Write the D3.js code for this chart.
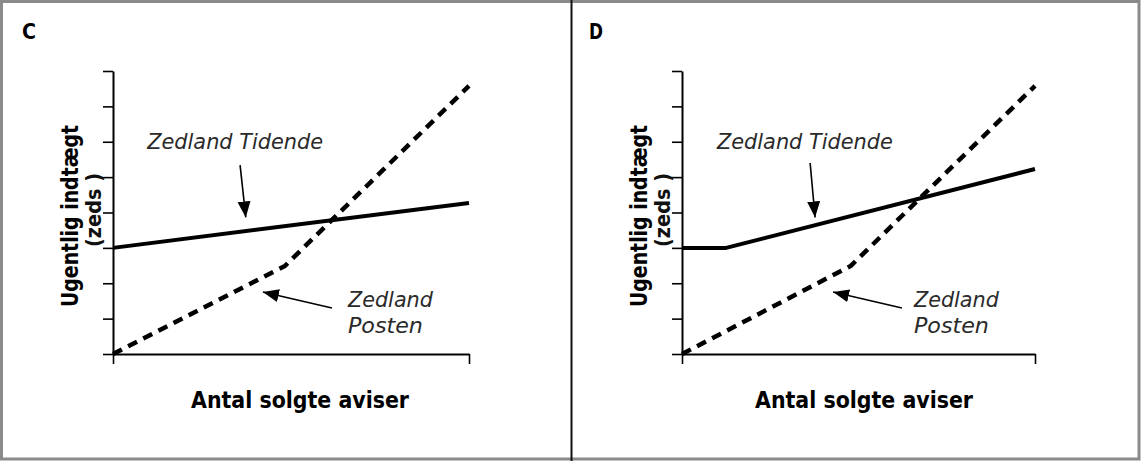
<!DOCTYPE html>
<html>
<head>
<meta charset="utf-8">
<script src="https://cdn.jsdelivr.net/npm/d3@7"></script>
<style>
  html, body { margin: 0; padding: 0; background: #fff; }
  svg { display: block; }
</style>
</head>
<body>
<svg id="chart" width="1141" height="461"></svg>
<script>
// ---- data ----
const panelNames = ["C", "D"];
const yTickValues = [0, 1, 2, 3, 4, 5, 6, 7, 8];
const xTickValues = [0, 10];
const xLabel = "Antal solgte aviser";
const yLabelLine1 = "Ugentlig indtægt";
const yLabelLine2 = "(zeds )";
const seriesNames = ["Zedland Tidende", "Zedland Posten"];

// Panel C
const tidendeC = [[0, 3.0], [10, 4.27]];
const postenC  = [[0, 0], [4.83, 2.49], [10, 7.58]];
// Panel D
const tidendeD = [[0, 3.0], [1.25, 3.0], [10, 5.23]];
const postenD  = [[0, 0], [4.78, 2.49], [10, 7.58]];

// annotation arrows (data units: [from, to])
const tidArrowC = [[3.57, 5.34], [3.73, 3.86]];
const posArrowC = [[6.15, 1.30], [4.21, 1.75]];
const tidArrowD = [[3.63, 5.40], [3.77, 3.86]];
const posArrowD = [[6.23, 1.30], [4.28, 1.75]];

// label anchors (data units)
const tidLabelC = [0.96, 5.80];
const posLabelC = [6.60, 1.33];
const tidLabelD = [0.99, 5.80];
const posLabelD = [6.57, 1.33];

const panels = [
  { name: panelNames[0], tidende: tidendeC, posten: postenC, tidArrow: tidArrowC, posArrow: posArrowC,
    tidLabel: tidLabelC, posLabel: posLabelC, xRange: [113, 469], letterX: 22,
    yLab1: [78, 216], yLab2: [101, 210], xLab: [300, 408] },
  { name: panelNames[1], tidende: tidendeD, posten: postenD, tidArrow: tidArrowD, posArrow: posArrowD,
    tidLabel: tidLabelD, posLabel: posLabelD, xRange: [682, 1035], letterX: 589,
    yLab1: [647, 216], yLab2: [670, 210], xLab: [864, 408] }
];

const svg = d3.select("#chart");

// arrowhead marker
svg.append("defs").append("marker")
  .attr("id", "ah")
  .attr("markerUnits", "userSpaceOnUse")
  .attr("viewBox", "0 -7 16 14")
  .attr("refX", 16).attr("refY", 0)
  .attr("markerWidth", 16).attr("markerHeight", 14)
  .attr("orient", "auto")
  .append("path").attr("d", "M0,-6.5L16,0L0,6.5Z").attr("fill", "#000");

// frame
svg.append("rect").attr("x", 1.5).attr("y", 1.5).attr("width", 1137.5).attr("height", 457.5)
  .attr("fill", "none").attr("stroke", "#8a8a8a").attr("stroke-width", 3);
svg.append("line").attr("x1", 571.5).attr("x2", 571.5).attr("y1", 0).attr("y2", 461)
  .attr("stroke", "#111").attr("stroke-width", 2);

panels.forEach(p => {
  const x = d3.scaleLinear().domain([0, 10]).range(p.xRange);
  const y = d3.scaleLinear().domain([0, 8]).range([354, 71]);
  const g = svg.append("g");

  // panel letter
  g.append("text").attr("x", p.letterX).attr("y", 39)
    .attr("font-family", "'DejaVu Sans', sans-serif")
    .attr("font-weight", "bold").attr("font-size", 22).attr("fill", "#000")
    .attr("textLength", 14).attr("lengthAdjust", "spacingAndGlyphs")
    .text(p.name);

  // axes
  const yAxis = d3.axisLeft(y).tickValues(yTickValues).tickFormat("").tickSize(10).tickSizeOuter(0);
  const xAxis = d3.axisBottom(x).tickValues(xTickValues).tickFormat("").tickSize(10).tickSizeOuter(0);
  const ya = g.append("g").attr("transform", `translate(${p.xRange[0]},0)`).call(yAxis);
  const xa = g.append("g").attr("transform", `translate(0,354)`).call(xAxis);
  [ya, xa].forEach(a => {
    a.selectAll("path.domain").attr("stroke", "#000").attr("stroke-width", 2);
    a.selectAll(".tick line").attr("stroke", "#000").attr("stroke-width", 1.6);
  });

  const line = d3.line().x(d => x(d[0])).y(d => y(d[1]));

  // Tidende (solid)
  g.append("path").datum(p.tidende).attr("d", line)
    .attr("fill", "none").attr("stroke", "#000").attr("stroke-width", 4)
    .attr("stroke-linejoin", "round");
  // Posten (dashed)
  g.append("path").datum(p.posten).attr("d", line)
    .attr("fill", "none").attr("stroke", "#000").attr("stroke-width", 4.5)
    .attr("stroke-dasharray", "10,7").attr("stroke-linejoin", "miter");

  // arrows
  [p.tidArrow, p.posArrow].forEach(a => {
    g.append("line")
      .attr("x1", x(a[0][0])).attr("y1", y(a[0][1]))
      .attr("x2", x(a[1][0])).attr("y2", y(a[1][1]))
      .attr("stroke", "#000").attr("stroke-width", 1.6)
      .attr("marker-end", "url(#ah)");
  });

  // series labels
  const lblFont = "'DejaVu Sans', Verdana, sans-serif";
  const lblSize = 21;
  g.append("text").attr("x", x(p.tidLabel[0])).attr("y", y(p.tidLabel[1]))
    .attr("font-family", lblFont).attr("font-style", "italic").attr("font-size", lblSize)
    .attr("fill", "#2a2a2a").attr("textLength", 176).attr("lengthAdjust", "spacingAndGlyphs")
    .text(seriesNames[0]);
  const posParts = seriesNames[1].split(" ");
  g.append("text").attr("x", x(p.posLabel[0])).attr("y", y(p.posLabel[1]))
    .attr("font-family", lblFont).attr("font-style", "italic").attr("font-size", lblSize)
    .attr("fill", "#2a2a2a").attr("textLength", 85).attr("lengthAdjust", "spacingAndGlyphs")
    .text(posParts[0]);
  g.append("text").attr("x", x(p.posLabel[0])).attr("y", y(p.posLabel[1]) + 26)
    .attr("font-family", lblFont).attr("font-style", "italic").attr("font-size", lblSize)
    .attr("fill", "#2a2a2a").attr("textLength", 75).attr("lengthAdjust", "spacingAndGlyphs")
    .text(posParts[1]);

  // axis titles
  const axFont = "'DejaVu Sans', Verdana, sans-serif";
  g.append("text").attr("transform", `translate(${p.yLab1[0]},${p.yLab1[1]}) rotate(-90)`)
    .attr("text-anchor", "middle").attr("font-family", axFont).attr("font-weight", "bold")
    .attr("font-size", 23).attr("fill", "#000")
    .attr("textLength", 182).attr("lengthAdjust", "spacingAndGlyphs")
    .text(yLabelLine1);
  g.append("text").attr("transform", `translate(${p.yLab2[0]},${p.yLab2[1]}) rotate(-90)`)
    .attr("text-anchor", "middle").attr("font-family", axFont).attr("font-weight", "bold")
    .attr("font-size", 21).attr("fill", "#111")
    .attr("textLength", 74).attr("lengthAdjust", "spacingAndGlyphs")
    .text(yLabelLine2);
  g.append("text").attr("x", p.xLab[0]).attr("y", p.xLab[1])
    .attr("text-anchor", "middle").attr("font-family", axFont).attr("font-weight", "bold")
    .attr("font-size", 23).attr("fill", "#000")
    .attr("textLength", 218).attr("lengthAdjust", "spacingAndGlyphs")
    .text(xLabel);
});
</script>
</body>
</html>
